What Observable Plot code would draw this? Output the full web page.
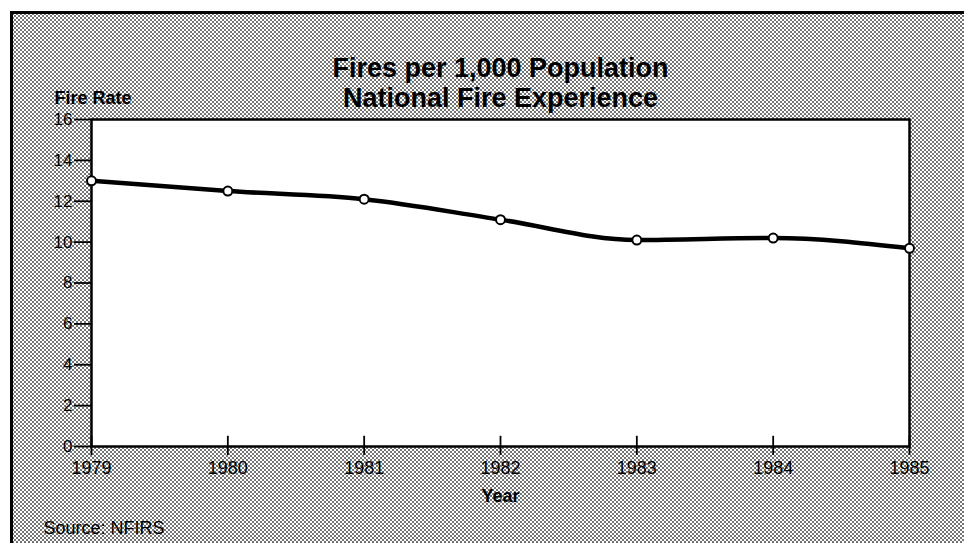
<!DOCTYPE html>
<html>
<head>
<meta charset="utf-8">
<script src="https://cdn.jsdelivr.net/npm/d3@7"></script>
<script src="https://cdn.jsdelivr.net/npm/@observablehq/plot@0.6"></script>
<style>
  html, body { margin: 0; padding: 0; background: #fff; }
  #wrap { position: relative; width: 964px; height: 543px; overflow: hidden; }
  #bg {
    position: absolute; left: 10px; top: 11px; width: 1000px; height: 600px;
    border-left: 3px solid #000; border-top: 3px solid #000;
    background-color: #fff;
    background-image:
      radial-gradient(circle at center, #6a6a6a 24%, transparent 38%),
      radial-gradient(circle at center, #6a6a6a 24%, transparent 38%);
    background-size: 4px 4px;
    background-position: 0 0, 2px 2px;
  }
  #chart { position: absolute; left: 0; top: 0; }
</style>
</head>
<body>
<div id="wrap">
  <div id="bg"></div>
  <div id="chart"></div>
</div>
<script>
// ---- data ----
const years = [1979, 1980, 1981, 1982, 1983, 1984, 1985];
const fireRate = [13.0, 12.5, 12.1, 11.1, 10.1, 10.2, 9.7];
const yTicks = [0, 2, 4, 6, 8, 10, 12, 14, 16];
const titleLines = ["Fires per 1,000 Population", "National Fire Experience"];
const yLabel = "Fire Rate";
const xLabel = "Year";
const sourceNote = "Source: NFIRS";

const data = years.map((year, i) => ({year, rate: fireRate[i]}));

const font = "'Liberation Sans', Arial, Helvetica, sans-serif";

const chart = Plot.plot({
  width: 964,
  height: 543,
  marginLeft: 91,
  marginRight: 55,
  marginTop: 119,
  marginBottom: 97,
  style: {background: "transparent", fontFamily: font, color: "#000", overflow: "visible"},
  x: {domain: [1979, 1985], ticks: years, tickFormat: d => String(d)},
  y: {domain: [0, 16], ticks: yTicks},
  marks: [
    Plot.frame({fill: "white", stroke: "black", strokeWidth: 2.5}),
    Plot.axisY({ticks: yTicks, tickSize: 17, tickPadding: 2, fontSize: 17, label: null, strokeWidth: 1.8}),
    Plot.axisX({ticks: years, tickSize: 9, tickPadding: 6, fontSize: 18, label: null, tickFormat: d => String(d), strokeWidth: 1.8}),
    Plot.ruleX(years, {x: d => d, y1: 0, y2: 0.5, stroke: "black", strokeWidth: 1.8}),
    Plot.line(data, {x: "year", y: "rate", curve: "monotone-x", stroke: "black", strokeWidth: 4.5}),
    Plot.dot(data, {x: "year", y: "rate", r: 4.5, fill: "white", stroke: "black", strokeWidth: 2}),
    Plot.text([titleLines[0]], {frameAnchor: "top", dy: -62, fontSize: 27, fontWeight: "bold", fill: "black"}),
    Plot.text([titleLines[1]], {frameAnchor: "top", dy: -32, fontSize: 27, fontWeight: "bold", fill: "black"}),
    Plot.text([yLabel], {frameAnchor: "top-left", textAnchor: "start", dx: -37, dy: -28, fontSize: 18, fontWeight: "bold", fill: "black"}),
    Plot.text([xLabel], {frameAnchor: "bottom", dy: 55, fontSize: 18, fontWeight: "bold", fill: "black"}),
    Plot.text([sourceNote], {frameAnchor: "bottom-left", textAnchor: "start", dx: -48, dy: 87, fontSize: 18, fill: "black"})
  ]
});

document.getElementById("chart").appendChild(chart);
</script>
</body>
</html>
